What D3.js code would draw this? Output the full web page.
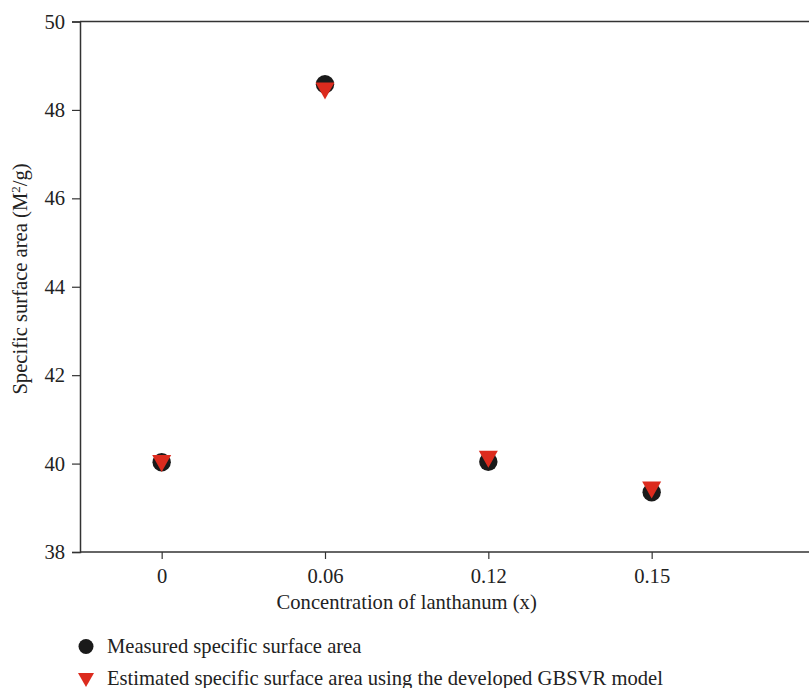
<!DOCTYPE html>
<html>
<head>
<meta charset="utf-8">
<script src="https://cdn.jsdelivr.net/npm/d3@7"></script>
<style>
  body { margin: 0; background: #fff; }
  text { font-family: "Liberation Serif", "DejaVu Serif", serif; fill: #222; }
</style>
</head>
<body>
<div id="chart"></div>
<script>
// Chart values
var categories = ["0", "0.06", "0.12", "0.15"];
var measured = [40.03, 48.58, 40.04, 39.35];
var estimated = [40.0, 48.43, 40.1, 39.4];
var yTicks = [38, 40, 42, 44, 46, 48, 50];

var svgWidth = 809;
var svgHeight = 688;
var fontSize = "20.6px";

var svg = d3.select("#chart")
  .append("svg")
  .attr("width", svgWidth)
  .attr("height", svgHeight);

// x positions by category index, the plot runs off the right edge
var xScale = d3.scaleLinear()
  .domain([-0.5, 4])
  .range([80, 815]);

var yScale = d3.scaleLinear()
  .domain([38, 50])
  .range([552, 21.5]);

// top frame line
svg.append("line")
  .attr("x1", 80).attr("x2", 809)
  .attr("y1", yScale(50)).attr("y2", yScale(50))
  .attr("stroke", "#333").attr("stroke-width", 1.5);

// left axis
var leftAxis = d3.axisLeft(yScale).tickValues(yTicks).tickSize(8).tickPadding(7);
var yAxis = svg.append("g")
  .attr("transform", "translate(80,0)")
  .call(leftAxis);
yAxis.select(".domain").attr("stroke", "#333").attr("stroke-width", 1.5);
yAxis.selectAll(".tick line").attr("stroke", "#333").attr("stroke-width", 1.2);
yAxis.selectAll("text")
  .attr("font-size", fontSize)
  .style("font-family", "Liberation Serif, serif")
  .attr("fill", "#222");

// bottom axis
var bottomAxis = d3.axisBottom(xScale)
  .tickValues(d3.range(categories.length))
  .tickFormat(function(i) { return categories[i]; })
  .tickSize(7).tickPadding(9);
var xAxis = svg.append("g")
  .attr("transform", `translate(0, ${yScale(38)})`)
  .call(bottomAxis);
xAxis.select(".domain").remove();
xAxis.append("line")
  .attr("x1", 80).attr("x2", 809)
  .attr("stroke", "#333").attr("stroke-width", 1.5);
xAxis.selectAll(".tick line").attr("stroke", "#333").attr("stroke-width", 1.2);
xAxis.selectAll("text")
  .attr("font-size", fontSize)
  .style("font-family", "Liberation Serif, serif")
  .attr("fill", "#222");

// axis titles
svg.append("text")
  .attr("x", xScale(1.5))
  .attr("y", 609)
  .attr("text-anchor", "middle")
  .attr("font-size", fontSize)
  .text("Concentration of lanthanum (x)");

var yTitle = svg.append("text")
  .attr("transform", "translate(27, 279) rotate(-90)")
  .attr("text-anchor", "middle")
  .attr("font-size", fontSize);
yTitle.append("tspan").text("Specific surface area (M");
yTitle.append("tspan").attr("font-size", "13px").attr("dy", "-7").text("2");
yTitle.append("tspan").attr("dy", "7").text("/g)");

// down-pointing triangle
var triPath = "M-9.5,-8.5L9.5,-8.5L0,8.5Z";

// measured points
svg.selectAll(".measured")
  .data(measured)
  .enter()
  .append("circle")
  .attr("class", "measured")
  .attr("cx", (d, i) => xScale(i))
  .attr("cy", d => yScale(d))
  .attr("r", 9.2)
  .attr("fill", "#1a1a1a");

// estimated points
svg.selectAll(".estimated")
  .data(estimated)
  .enter()
  .append("path")
  .attr("class", "estimated")
  .attr("d", triPath)
  .attr("transform", (d, i) => `translate(${xScale(i)}, ${yScale(d)})`)
  .attr("fill", "#dc2b1e");

// legend
var legend = svg.append("g");
legend.append("circle")
  .attr("cx", 86).attr("cy", 646.5).attr("r", 7.5)
  .attr("fill", "#1a1a1a");
legend.append("text")
  .attr("x", 107).attr("y", 653)
  .attr("font-size", fontSize)
  .text("Measured specific surface area");
legend.append("path")
  .attr("d", "M-8,-7L8,-7L0,7Z")
  .attr("transform", "translate(86, 680)")
  .attr("fill", "#dc2b1e");
legend.append("text")
  .attr("x", 107).attr("y", 685)
  .attr("font-size", fontSize)
  .text("Estimated specific surface area using the developed GBSVR model");
</script>
</body>
</html>
